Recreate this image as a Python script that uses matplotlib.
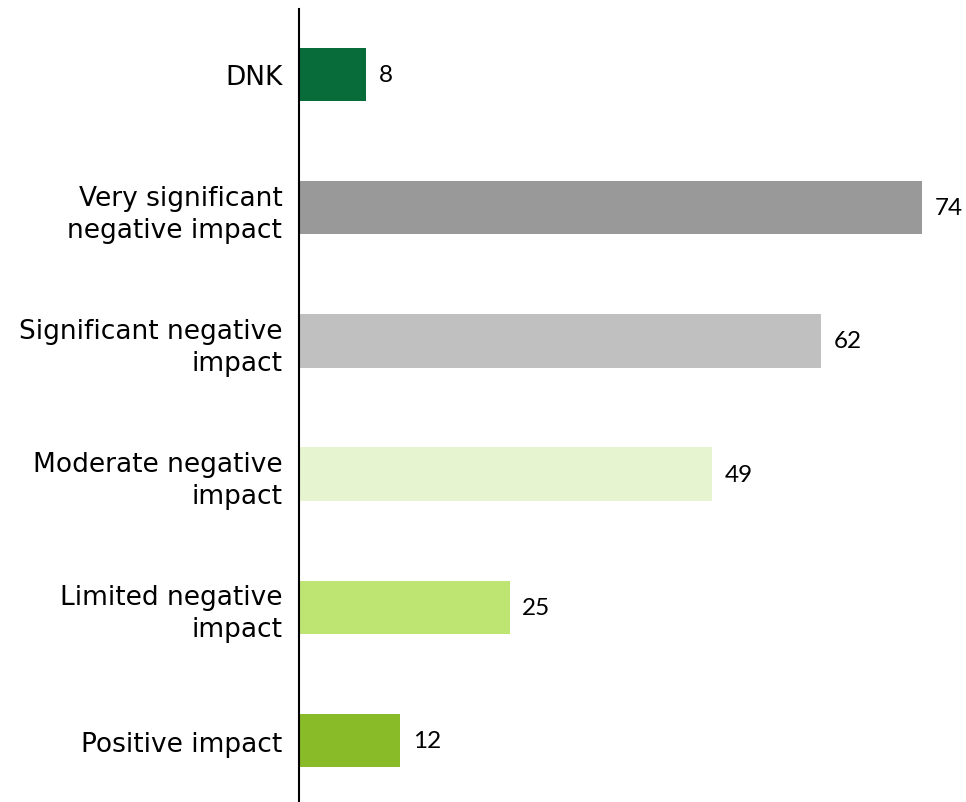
import matplotlib.pyplot as plt

categories = ['DNK', 'Very significant\nnegative impact', 'Significant negative\nimpact',
              'Moderate negative\nimpact', 'Limited negative\nimpact', 'Positive impact']
values = [8, 74, 62, 49, 25, 12]
colors = ['#076B3A', '#999999', '#C0C0C0', '#E6F4D0', '#BEE472', '#89BB29']

fig = plt.figure(figsize=(9.66, 8.03), dpi=100)
ax = fig.add_axes([299 / 966, 0, 1 - 299 / 966, 793 / 803])

pos = list(range(len(categories)))[::-1]
ax.barh(pos, values, height=0.4, color=colors)
for y, v in zip(pos, values):
    ax.text(v + 1.5, y, str(v), va='center', ha='left', fontsize=17.5, family='Lato')

ax.set_yticks(pos)
ax.set_yticklabels(categories, fontsize=19, linespacing=1.3)
ax.tick_params(axis='y', length=0, pad=12)
ax.set_xticks([])
ax.set_xlim(0, 79.2)
ax.set_ylim(-0.46, 5.49)
for s in ['top', 'right', 'bottom']:
    ax.spines[s].set_visible(False)
ax.spines['left'].set_linewidth(1.5)

fig.savefig('out.png', dpi=100)
